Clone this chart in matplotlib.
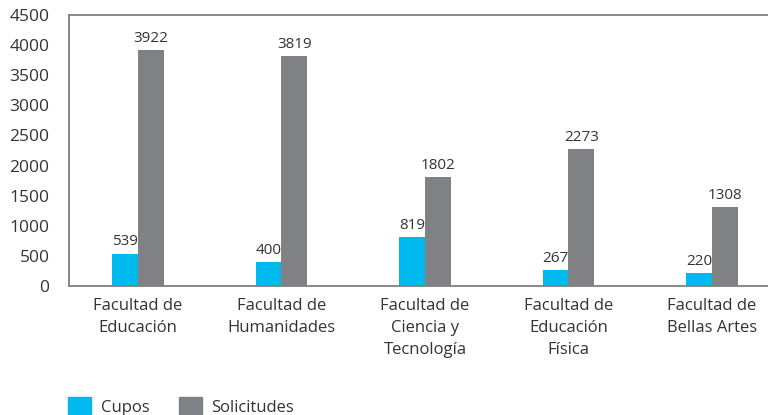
import matplotlib
matplotlib.use('Agg')
from matplotlib import pyplot as plt
from matplotlib.patches import Patch
import numpy as np

facultades = ['Facultad de\nEducación', 'Facultad de\nHumanidades',
              'Facultad de\nCiencia y\nTecnología', 'Facultad de\nEducación\nFísica',
              'Facultad de\nBellas Artes']
cupos = [539, 400, 819, 267, 220]
solicitudes = [3922, 3819, 1802, 2273, 1308]

c_cupos = '#00b9ef'
c_sol = '#808184'
txt = '#333333'

plt.rcParams['font.family'] = ['Open Sans', 'DejaVu Sans']

fig = plt.figure(figsize=(7.68, 4.15), dpi=100)
ax = fig.add_axes([69/768, 1-286/415, (768-69)/768, (286-15)/415])

x = np.arange(len(facultades))
w = 0.18
b1 = ax.bar(x - w/2, cupos, w, color=c_cupos)
b2 = ax.bar(x + w/2, solicitudes, w, color=c_sol)
for bars in (b1, b2):
    ax.bar_label(bars, padding=3, fontsize=11, color=txt)

ax.set_xlim(-0.48, 4.39)
ax.set_ylim(0, 4500)
ax.set_yticks(range(0, 4501, 500))
ax.set_xticks(x)
ax.set_xticklabels(facultades, fontsize=12, color=txt, linespacing=1.5)
ax.tick_params(axis='both', length=0, labelcolor=txt)
ax.tick_params(axis='y', labelsize=12.5, pad=14)
ax.tick_params(axis='x', pad=9)
for s in ['left', 'top', 'bottom']:
    ax.spines[s].set_color('#808080')
    ax.spines[s].set_linewidth(1.3)
ax.spines['right'].set_visible(False)

handles = [Patch(color=c_cupos, label='Cupos'), Patch(color=c_sol, label='Solicitudes')]
fig.legend(handles=handles, loc='lower left', bbox_to_anchor=(53/768, -0.038), ncol=2,
           frameon=False, fontsize=12, handlelength=1.35, handleheight=1.35,
           handletextpad=0.6, columnspacing=1.8, labelcolor=txt)

fig.savefig('out.png', dpi=100)
